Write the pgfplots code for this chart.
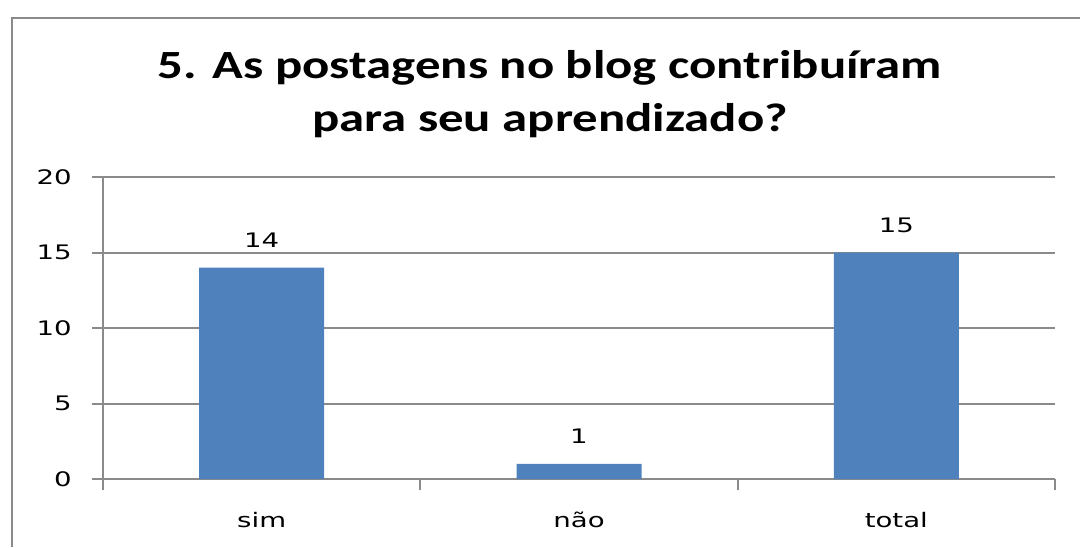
\documentclass[border=0pt]{standalone}
\usepackage{fontspec}
\usepackage{pgfplots}
\pgfplotsset{compat=1.18}
\newfontfamily\titlefont[FakeStretch=1.27]{Carlito}
\newfontfamily\lblfont[FakeStretch=1.38]{DejaVu Sans}
\definecolor{barblue}{HTML}{4F81BD}
\definecolor{gridgray}{HTML}{8A8A8A}
\begin{document}
\begin{tikzpicture}
\useasboundingbox (0,0) rectangle (810pt,410.25pt);
\draw[gridgray, line width=1.5pt] (9pt,0) -- (9pt,396.75pt) -- (812pt,396.75pt);
\node[anchor=base, font=\titlefont\bfseries\fontsize{30}{36}\selectfont] at (412.5pt,351pt) {5. As postagens no blog contribuíram};
\node[anchor=base, font=\titlefont\bfseries\fontsize{30}{36}\selectfont] at (412.5pt,311.25pt) {para seu aprendizado?};
\begin{axis}[
  at={(77.25pt,51pt)}, anchor=south west,
  scale only axis, width=714pt, height=226.5pt,
  xmin=-0.5, xmax=2.5, ymin=0, ymax=20,
  ytick={0,5,10,15,20},
  xtick={-0.5,0.5,1.5,2.5}, xticklabels={},
  extra x ticks={0,1,2}, extra x tick labels={sim,não,total},
  extra x tick style={grid=none, major tick length=0pt,
    xticklabel style={anchor=base, inner sep=0pt, yshift=-36pt}},
  axis lines=left,
  axis line style={gridgray, line width=1.5pt, -},
  ymajorgrids,
  grid style={gridgray, line width=1.5pt},
  tick align=outside,
  major tick length=8.25pt,
  tick style={gridgray, line width=1.5pt},
  /pgf/number format/assume math mode=true,
  ticklabel style={font=\lblfont\fontsize{15}{18}\selectfont, text=black},
  yticklabel style={anchor=east, inner sep=0pt, xshift=-15pt},
  ybar, bar width=93.75pt,
  nodes near coords,
  nodes near coords style={font=\lblfont\fontsize{15}{18}\selectfont, text=black, anchor=base, inner sep=0pt, yshift=15pt},
  clip=false,
]
\addplot[fill=barblue, draw=none] coordinates {(0,14) (1,1) (2,15)};
\end{axis}
\end{tikzpicture}
\end{document}
